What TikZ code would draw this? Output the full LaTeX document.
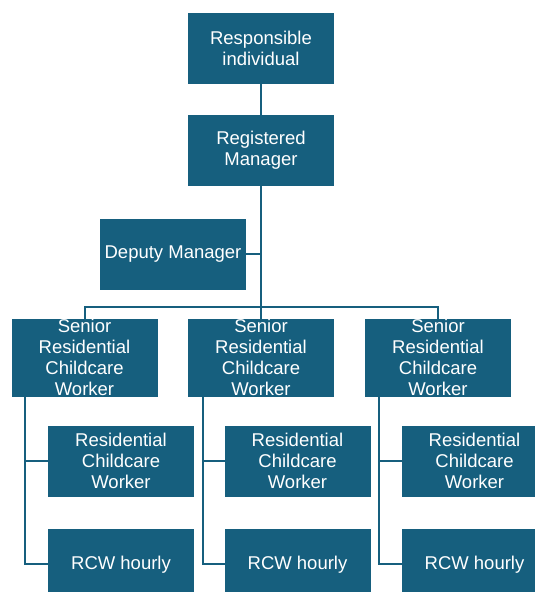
\documentclass[tikz,border=0pt]{standalone}
\usepackage{fontspec}
\setmainfont{Liberation Sans}
\definecolor{orgcolor}{HTML}{165F7E}

\tikzset{
  orgbox/.style={draw=orgcolor, fill=orgcolor, rectangle, text=white, align=center, inner sep=0pt,
    minimum width=145pt, minimum height=70pt, font=\fontsize{18.5pt}{21pt}\selectfont},
  seniorbox/.style={orgbox, minimum height=72pt},
  orgline/.style={draw=orgcolor, line width=2pt}
}

\begin{document}
\begin{tikzpicture}[x=1pt, y=-1pt]%
\useasboundingbox (0,0) rectangle (535,592);%
\clip (0,0) rectangle (535,592);%
\node[orgbox] (ri) at (261, 48) {Responsible\\individual};%
\node[orgbox] (rm) at (261, 150) {Registered\\Manager};%
\node[orgbox] (dm) at (173, 254) {Deputy Manager};%
\node[seniorbox] (s1) at (84.5, 357.5) {Senior\\Residential\\Childcare\\Worker};%
\node[seniorbox] (s2) at (261, 357.5) {Senior\\Residential\\Childcare\\Worker};%
\node[seniorbox] (s3) at (438, 357.5) {Senior\\Residential\\Childcare\\Worker};%
\node[orgbox] (w1) at (121, 460.7) {Residential\\Childcare\\Worker};%
\node[orgbox] (w2) at (297.5, 460.7) {Residential\\Childcare\\Worker};%
\node[orgbox] (w3) at (474.5, 460.7) {Residential\\Childcare\\Worker};%
\node[orgbox] (h1) at (121, 564.3) {RCW hourly};%
\node[orgbox] (h2) at (297.5, 564.3) {RCW hourly};%
\node[orgbox] (h3) at (474.5, 564.3) {RCW hourly};%
% connectors
\coordinate (bar) at (261, 306.5);%
\coordinate (t1) at (25, 0);%
\coordinate (t2) at (202.7, 0);%
\coordinate (t3) at (379, 0);%
\draw[orgline] (ri) -- (rm);%
\draw[orgline] (rm) -- (s2);%
\draw[orgline] (dm.east) -- (dm.east -| rm.south);%
\draw[orgline] (s1.north) -- (s1.north |- bar) -- (s3.north |- bar) -- (s3.north);%
\draw[orgline] (t1 |- s1.south) |- (h1.west);%
\draw[orgline] (t1 |- w1.west) -- (w1.west);%
\draw[orgline] (t2 |- s2.south) |- (h2.west);%
\draw[orgline] (t2 |- w2.west) -- (w2.west);%
\draw[orgline] (t3 |- s3.south) |- (h3.west);%
\draw[orgline] (t3 |- w3.west) -- (w3.west);%
\end{tikzpicture}
\end{document}
